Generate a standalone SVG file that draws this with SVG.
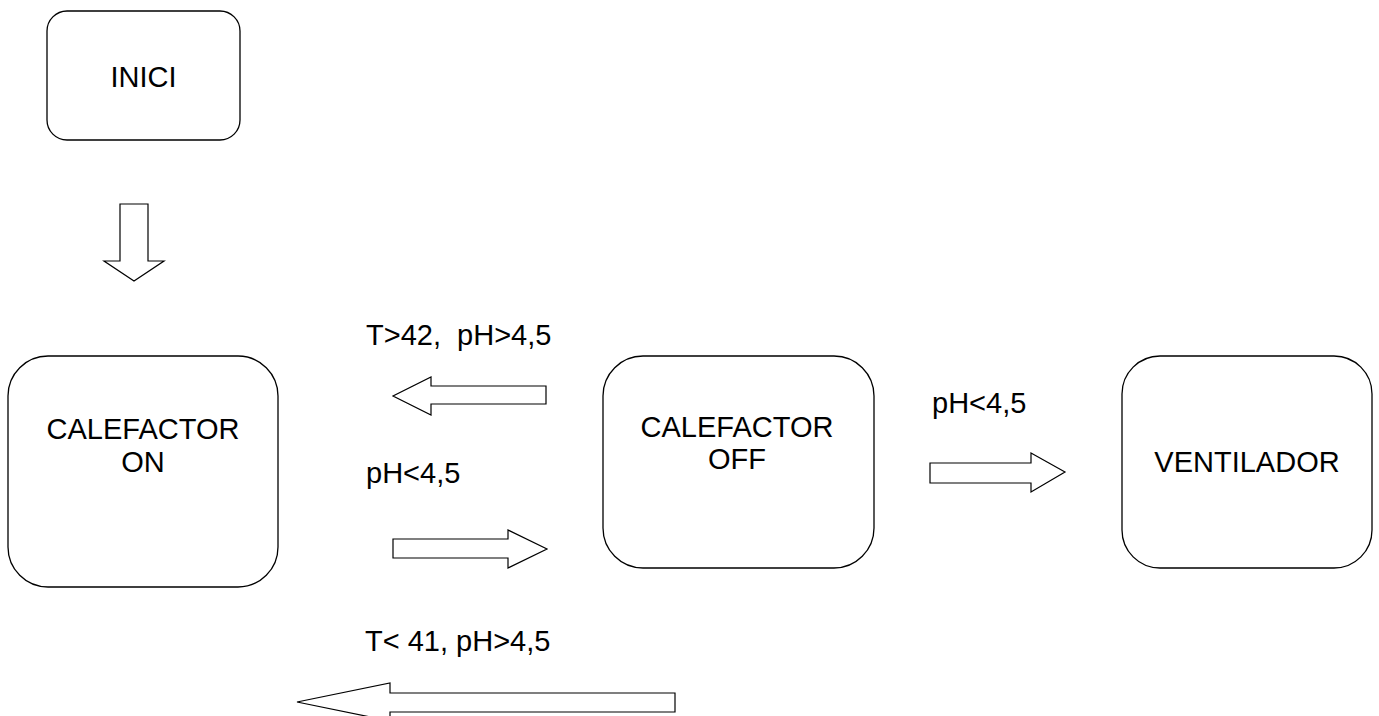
<svg xmlns="http://www.w3.org/2000/svg" width="1379" height="716" viewBox="0 0 1379 716">
<style>
.box{fill:#fff;stroke:#000;stroke-width:1.3}
.arr{fill:#fff;stroke:#000;stroke-width:1.2;stroke-linejoin:miter}
text{font-family:"Liberation Sans",Arial,sans-serif;font-size:29px;fill:#000;white-space:pre}
.c{text-anchor:middle}
</style>
<rect width="1379" height="716" fill="#fff"/>
<g id="inici">
<rect class="box" x="47" y="11" width="193" height="129" rx="20"/>
<text class="c" x="143.5" y="87">INICI</text>
</g>
<g id="calefactor-on">
<rect class="box" x="8" y="356" width="270" height="231" rx="40"/>
<text class="c" x="143" y="439">CALEFACTOR</text>
<text class="c" x="143" y="472">ON</text>
</g>
<g id="calefactor-off">
<rect class="box" x="603" y="356" width="271" height="212" rx="40"/>
<text class="c" x="737" y="437">CALEFACTOR</text>
<text class="c" x="737" y="469">OFF</text>
</g>
<g id="ventilador">
<rect class="box" x="1122" y="356" width="250" height="212" rx="38"/>
<text class="c" x="1247" y="472">VENTILADOR</text>
</g>
<g id="connectors">
<polygon class="arr" points="120,204 148,204 148,261 164,261 134,281 104,261 120,261"/>
<polygon class="arr" points="546,386 431,386 431,377 393,396 431,415 431,404 546,404"/>
<text x="366" y="345" xml:space="preserve">T&gt;42,  pH&gt;4,5</text>
<polygon class="arr" points="393,539 508,539 508,530 547,549 508,568 508,558 393,558"/>
<text x="366" y="483">pH&lt;4,5</text>
<polygon class="arr" points="930,463 1031,463 1031,453 1065,472 1031,492 1031,483 930,483"/>
<text x="932" y="413">pH&lt;4,5</text>
<polygon class="arr" points="675,693 390,693 390,683 297,702 390,721 390,712 675,712"/>
<text x="365" y="651">T&lt; 41, pH&gt;4,5</text>
</g>
</svg>
